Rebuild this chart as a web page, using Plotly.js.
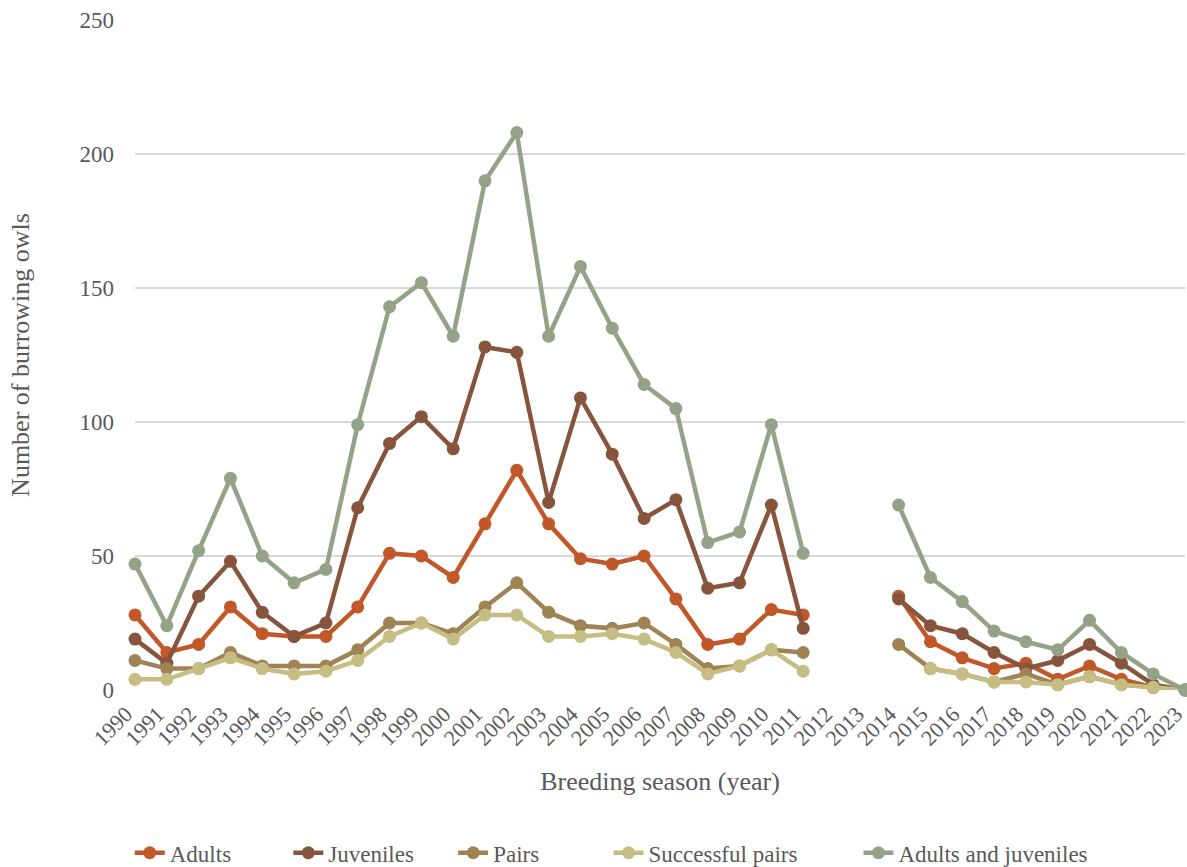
<!DOCTYPE html>
<html>
<head>
<meta charset="utf-8">
<script src="https://cdn.plot.ly/plotly-3.0.1.min.js"></script>
<style>
  html, body { margin: 0; padding: 0; background: #ffffff; }
  #chart { width: 1187px; height: 867px; }
</style>
</head>
<body>
<div id="chart"></div>
<script>
const years = ['1990','1991','1992','1993','1994','1995','1996','1997','1998','1999',
  '2000','2001','2002','2003','2004','2005','2006','2007','2008','2009','2010','2011',
  '2012','2013','2014','2015','2016','2017','2018','2019','2020','2021','2022','2023'];

const adults = [28,14,17,31,21,20,20,31,51,50,42,62,82,62,49,47,50,34,17,19,30,28,
  null,null,35,18,12,8,10,4,9,4,1,0];
const juveniles = [19,10,35,48,29,20,25,68,92,102,90,128,126,70,109,88,64,71,38,40,69,23,
  null,null,34,24,21,14,8,11,17,10,2,0];
const pairs = [11,8,8,14,9,9,9,15,25,25,21,31,40,29,24,23,25,17,8,9,15,14,
  null,null,17,8,6,3,6,2,5,2,1,0];
const successfulPairs = [4,4,8,12,8,6,7,11,20,25,19,28,28,20,20,21,19,14,6,9,15,7,
  null,null,null,8,6,3,3,2,5,2,1,0];
const adultsAndJuveniles = [47,24,52,79,50,40,45,99,143,152,132,190,208,132,158,135,114,105,55,59,99,51,
  null,null,69,42,33,22,18,15,26,14,6,0];

const seriesNames = ['Adults','Juveniles','Pairs','Successful pairs','Adults and juveniles'];
const seriesValues = [adults, juveniles, pairs, successfulPairs, adultsAndJuveniles];
const seriesColors = ['#C0582A','#87553D','#A08355','#C5BD82','#94A288'];
const legendIds = ['legend','legend2','legend3','legend4','legend5'];
const legendX = [-0.005, 0.146, 0.303, 0.451, 0.689];

const traces = seriesNames.map((name, i) => ({
  type: 'scatter',
  mode: 'lines+markers',
  name: name,
  x: years,
  y: seriesValues[i],
  connectgaps: false,
  cliponaxis: false,
  legend: legendIds[i],
  line: { color: seriesColors[i], width: 4.5 },
  marker: { color: seriesColors[i], size: 13 }
}));

const fontFam = 'Liberation Serif, Times New Roman, serif';
const gray = '#595959';

const layout = {
  width: 1187,
  height: 867,
  paper_bgcolor: '#ffffff',
  plot_bgcolor: '#ffffff',
  margin: { l: 135, r: 2, t: 20, b: 177, autoexpand: false },
  font: { family: fontFam, color: gray, size: 23 },
  showlegend: true,
  xaxis: {
    type: 'category',
    range: [0, 33],
    tickangle: -45,
    tickfont: { family: fontFam, size: 22, color: gray },
    ticklabelstandoff: 6,
    ticklabelshift: -9,
    showgrid: false,
    zeroline: false,
    showline: false,
    ticks: '',
    title: { text: 'Breeding season (year)', font: { family: fontFam, size: 26, color: gray }, standoff: 22 },
    automargin: false
  },
  yaxis: {
    range: [0, 250],
    dtick: 50,
    tickfont: { family: fontFam, size: 23, color: gray },
    showgrid: true,
    gridcolor: '#D9D9D9',
    gridwidth: 1.5,
    zeroline: false,
    showline: false,
    ticks: '',
    ticklabelstandoff: 20,
    title: { text: 'Number of burrowing owls', font: { family: fontFam, size: 26, color: gray }, standoff: 42 },
    automargin: false
  }
};

legendIds.forEach((id, i) => {
  layout[id] = {
    orientation: 'h',
    x: legendX[i], xanchor: 'left',
    y: -0.243, yanchor: 'middle',
    bgcolor: 'rgba(0,0,0,0)',
    font: { family: fontFam, size: 23, color: gray }
  };
});

Plotly.newPlot('chart', traces, layout, { displayModeBar: false, staticPlot: true });
</script>
</body>
</html>
